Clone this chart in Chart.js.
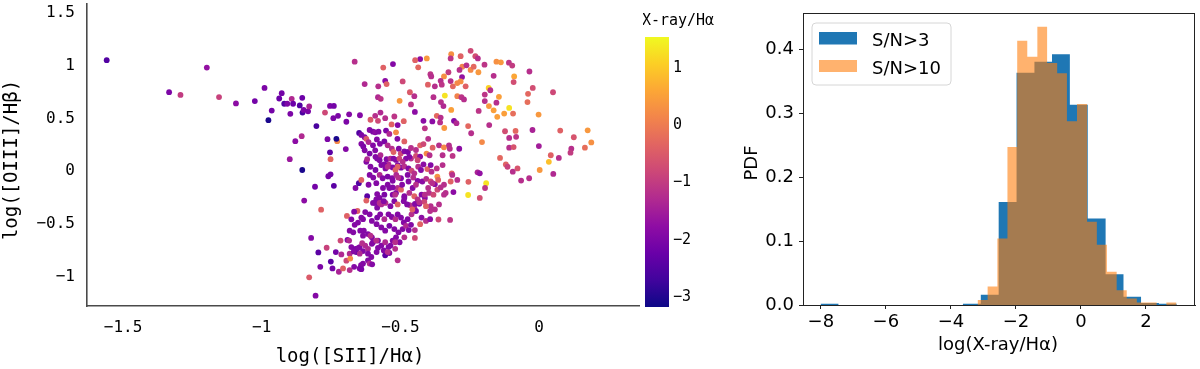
<!DOCTYPE html>
<html>
<head>
<meta charset="utf-8">
<script src="https://cdn.jsdelivr.net/npm/chart.js@4.4.0/dist/chart.umd.min.js"></script>
<style>
  html, body { margin: 0; padding: 0; background: #fff; }
  #wrap { position: relative; width: 1200px; height: 369px; overflow: hidden; background: #fff; }
  canvas { position: absolute; top: 0; }
</style>
</head>
<body>
<div id="wrap">
  <canvas id="bpt" width="643" height="369" style="left:0;width:643px;height:369px"></canvas>
  <canvas id="cbar" width="90" height="369" style="left:643px;width:90px;height:369px"></canvas>
  <canvas id="hist" width="500" height="369" style="left:700px;width:500px;height:369px"></canvas>
</div>
<script>
// ---- scatter: [log([SII]/Ha), log([OIII]/Hb), log(X-ray/Ha)] ----
const leftBranch = [
  [-1.559,1.054,-2.5],[-1.198,0.983,-1.7],[-1.334,0.750,-2.0],[-1.293,0.724,-1.0],[-1.154,0.703,-0.9],
  [-1.093,0.643,-1.8],[-1.025,0.665,-2.1],[-0.990,0.790,-2.0],[-0.976,0.484,-3.05],[-0.964,0.575,-2.1],
  [-0.937,0.690,-2.2],[-0.928,0.740,-2.1],[-0.919,0.640,-2.5],[-0.908,0.640,-2.0],[-0.892,0.687,-1.3],
  [-0.897,0.544,-2.0],[-0.887,0.640,-2.2],[-0.863,0.624,-2.5],[-0.854,0.696,-2.2],[-0.853,0.556,-2.6],
  [-0.849,0.581,-2.0],[-0.833,0.568,-2.0],[-0.829,0.615,-1.4],[-0.803,0.428,-2.6],[-0.856,0.332,-1.3],
  [-0.879,0.285,-1.8],[-0.899,0.114,-1.6],[-0.854,0.011,-3.05],[-0.808,-0.148,-2.1],[-0.847,-0.279,-1.8],
  [-0.786,-0.366,-0.4],[-0.822,-0.634,-1.9],[-0.796,-0.771,-2.4],[-0.789,-0.908,-2.0],[-0.829,-1.008,-0.5],
  [-0.806,-1.182,-1.9],[-0.772,0.556,-0.8],[-0.763,0.304,-2.0],[-0.754,0.179,-2.4],[-0.752,0.114,-0.3],
  [-0.728,0.285,0.2],[-0.731,0.307,-3.05],[-0.760,-0.048,-2.1],[-0.752,-0.030,-2.1],[-0.740,-0.139,-2.4],
  [-0.754,0.619,-2.0],[-0.740,0.619,-2.1],[-0.742,0.503,-2.0],[-0.725,0.525,-2.0],[-0.695,0.469,-2.0],
  [-0.697,0.210,-1.9],[-0.693,-0.425,-0.4],[-0.716,-0.659,-0.8],[-0.766,-0.727,-0.9],[-0.733,-0.768,-2.1],
  [-0.713,-0.790,-1.3],[-0.751,-0.858,-2.4],[-0.745,-0.923,-2.1],[-0.722,-0.955,-1.4],[-0.707,-0.923,-0.4],
  [-0.695,-0.850,-0.8]
];

const upperPlume = [
  [-0.247,1.142,-0.8],[-0.317,1.111,0.3],[-0.319,1.070,-1.1],[-0.283,1.092,-0.4],[-0.230,1.092,-0.7],
  [-0.221,1.070,-1.2],[-0.405,1.070,0.4],[-0.429,1.064,-1.8],[-0.447,1.054,-0.4],[-0.665,1.039,-1.2],
  [-0.527,1.017,-1.9],[-0.562,0.983,-0.4],[-0.436,0.986,-0.3],[-0.277,0.992,0.1],[-0.262,1.005,-1.2],
  [-0.247,0.961,0.2],[-0.236,0.992,-0.3],[-0.197,1.011,-1.1],[-0.154,1.039,0.3],[-0.138,1.033,0.4],
  [-0.109,1.030,-1.1],[-0.097,1.002,-1.0],[-0.035,0.946,-1.2],[-0.392,0.921,-1.1],[-0.389,0.899,-1.2],
  [-0.327,0.939,-1.0],[-0.343,0.899,0.3],[-0.287,0.961,-1.2],[-0.278,0.893,-1.7],[-0.219,0.939,0.4],
  [-0.164,0.905,-1.2],[-0.090,0.899,0.6],[-0.092,0.846,-0.7],[-0.629,0.827,-1.3],[-0.580,0.805,-1.2],
  [-0.555,0.858,-1.8],[-0.550,0.827,-0.4],[-0.492,0.852,-0.8],[-0.401,0.821,-0.4],[-0.376,0.805,-1.2],
  [-0.355,0.858,-1.2],[-0.351,0.821,-1.1],[-0.319,0.855,-1.2],[-0.311,0.805,-0.3],[-0.283,0.852,0.3],
  [-0.295,0.836,0.2],[-0.265,0.805,-0.4],[-0.182,0.790,1.1],[-0.176,0.768,-1.2],[-0.023,0.790,-0.7],
  [0.050,0.749,-0.8],[-0.340,0.718,1.3],[-0.466,0.749,-0.5],[-0.450,0.712,-1.2],[-0.503,0.668,0.4],
  [-0.581,0.702,-1.3],[-0.571,0.687,-1.1],[-0.381,0.702,-1.2],[-0.295,0.712,0.1],[-0.280,0.702,-1.1],
  [-0.271,0.681,-1.2],[-0.196,0.727,-1.1],[-0.196,0.665,-1.2],[-0.145,0.706,0.5],[-0.154,0.650,-1.2],
  [-0.040,0.734,-0.3],[-0.042,0.656,-0.2],
  [-0.462,0.634,-1.1],[-0.448,0.562,-1.8],[-0.354,0.656,-1.2],[-0.345,0.618,-1.3],[-0.181,0.618,0.4],
  [-0.108,0.600,1.3],[-0.164,0.578,0.5],[-0.151,0.516,0.5],[-0.126,0.547,0.5],[-0.094,0.547,-0.2],
  [-0.218,0.572,-1.1],[-0.002,0.537,0.4],[-0.317,0.581,0.5],[-0.369,0.525,-0.3],[-0.355,0.509,-1.2],
  [-0.572,0.556,-1.3],[-0.608,0.488,-0.5],[-0.180,0.438,-1.2],[-0.256,0.428,-0.3],[-0.357,0.463,-1.2],
  [-0.342,0.410,0.4],[-0.024,0.391,-1.4],[0.076,0.385,-0.4],[0.175,0.388,0.4],[-0.123,0.379,-0.7],
  [-0.085,0.382,-0.3],[-0.685,0.540,-1.9],[-0.646,0.531,-1.9],[-0.591,0.525,-1.2],[-0.555,0.503,-1.2],
  [-0.522,0.519,-1.1],[-0.532,0.444,-0.4],[-0.488,0.475,-0.4],[-0.510,0.438,-1.9],[-0.417,0.478,-1.8],
  [-0.412,0.407,-1.1],[-0.385,0.472,-1.8],[-0.307,0.478,-1.9],[-0.298,0.456,-1.3],[-0.245,0.360,-1.2]
];

const rightWing = [
  [0.125,0.322,-0.6],[0.188,0.273,0.3],[0.165,0.223,-0.2],[0.116,0.213,-1.2],[0.113,0.176,-1.0],
  [-0.001,0.238,-1.5],[0.042,0.151,-0.4],[0.071,0.126,-1.2],[0.035,0.089,0.9],[0.002,0.011,0.4],
  [0.051,-0.026,-1.3],[-0.036,-0.067,-1.2],[-0.065,-0.089,-1.2],[-0.078,0.026,-0.6],[-0.095,-0.005,-1.2],
  [-0.120,0.064,-0.4],[-0.114,0.042,-0.9],[-0.141,0.126,-0.3],[-0.108,0.223,-1.2],[-0.092,0.229,-0.6],
  [-0.108,0.316,-1.2],[-0.083,0.326,-1.1],[-0.206,0.276,0.2],[-0.222,-0.011,-1.4],[-0.214,-0.020,-1.7],
  [-0.255,-0.101,-0.4],[-0.191,-0.114,1.3],[-0.195,-0.160,-1.1],[-0.256,-0.226,1.3],[-0.214,-0.254,-0.7]
];

const mainCluster = [
  [-0.649,0.363,-2.5],[-0.641,0.344,-2.0],[-0.629,0.322,-1.9],[-0.611,0.391,-1.9],[-0.599,0.375,-2.0],
  [-0.591,0.369,-1.8],[-0.579,0.375,-1.9],[-0.552,0.385,-2.0],[-0.540,0.354,-1.3],[-0.516,0.369,0.2],
  [-0.511,0.307,-1.9],[-0.486,0.282,-0.4],[-0.581,0.478,-0.8],
  [-0.641,0.260,-1.9],[-0.634,0.235,-2.0],[-0.623,0.307,-0.5],[-0.615,0.276,-1.3],[-0.599,0.245,-1.9],
  [-0.585,0.301,-1.9],[-0.574,0.260,-1.9],[-0.558,0.282,-2.0],[-0.546,0.245,-1.3],[-0.531,0.213,-1.2],
  [-0.525,0.182,-0.4],[-0.506,0.213,-1.9],[-0.499,0.167,-0.8],[-0.486,0.188,-1.9],[-0.473,0.182,-2.0],
  [-0.462,0.220,-1.2],[-0.444,0.201,-1.2],[-0.429,0.245,-0.4],[-0.417,0.257,-0.8],[-0.400,0.307,-1.2],
  [-0.384,0.223,-0.4],[-0.361,0.245,-1.2],[-0.343,0.226,0.2],[-0.325,0.245,-1.2],[-0.629,0.198,-1.9],
  [-0.611,0.167,-2.0],[-0.591,0.198,-1.9],[-0.584,0.120,-1.9],[-0.572,0.151,-1.3],[-0.550,0.114,-1.9],
  [-0.536,0.120,-1.3],[-0.516,0.107,-1.9],[-0.504,0.120,-0.8],[-0.480,0.120,-1.9],[-0.462,0.120,-1.2],
  [-0.444,0.145,-0.7],[-0.429,0.139,-1.8],[-0.406,0.167,0.2],[-0.395,0.151,-1.2],[-0.348,0.151,-1.2],
  [-0.312,0.145,-1.1],[-0.288,0.213,-1.8],[-0.322,0.213,-1.2],
  [-0.623,0.089,-1.9],[-0.608,0.042,-1.9],[-0.590,0.011,-2.0],[-0.569,0.058,-1.9],[-0.554,0.026,-1.9],
  [-0.543,0.064,-1.3],[-0.528,0.036,-1.9],[-0.518,0.011,-0.4],[-0.510,0.058,-1.9],[-0.498,0.033,-2.0],
  [-0.486,0.045,-1.2],[-0.471,0.026,-1.9],[-0.460,0.005,-0.8],[-0.450,-0.020,-1.2],[-0.436,0.042,-1.2],
  [-0.417,0.064,-1.8],[-0.403,0.020,-0.4],[-0.388,-0.005,-1.2],[-0.369,0.026,-1.1],[-0.367,-0.051,0.3],
  [-0.348,0.058,-1.2],[-0.315,-0.020,-0.4],[-0.295,-0.083,-1.2],[-0.611,-0.036,-1.9],[-0.598,-0.061,-1.9],
  [-0.575,-0.036,-1.3],[-0.564,-0.067,-1.9],[-0.546,-0.051,-2.0],[-0.530,-0.067,-1.9],[-0.515,-0.036,-1.3],
  [-0.498,-0.067,-1.9],[-0.474,-0.036,-1.9],[-0.454,-0.061,-1.2],[-0.438,-0.092,-1.9],[-0.421,-0.098,-1.8],
  [-0.407,-0.073,-1.2],[-0.391,-0.098,-0.8],[-0.376,-0.123,-1.8],[-0.364,-0.083,-0.4],[-0.343,-0.129,-1.2],
  [-0.662,-0.160,-1.9],[-0.650,-0.114,-2.5],[-0.641,-0.083,-0.4],[-0.615,-0.129,-1.9],
  [-0.620,-0.238,-2.4],[-0.587,-0.269,-1.9],[-0.591,-0.301,-1.9],[-0.575,-0.254,-1.9],[-0.558,-0.223,-2.0],
  [-0.540,-0.160,-1.9],[-0.528,-0.223,-1.9],[-0.516,-0.207,-1.9],[-0.510,-0.160,-1.2],[-0.498,-0.176,-0.4],
  [-0.486,-0.238,-1.9],[-0.468,-0.207,-1.2],[-0.456,-0.160,-1.9],[-0.450,-0.238,-0.4],[-0.438,-0.269,-1.2],
  [-0.424,-0.223,-1.9],[-0.412,-0.254,-1.8],[-0.397,-0.207,-1.2],[-0.381,-0.223,-0.8],[-0.367,-0.176,-0.8],
  [-0.337,-0.207,-1.2],[-0.309,-0.198,-1.8],[-0.623,-0.279,-0.4],[-0.599,-0.301,-1.9],[-0.584,-0.347,-1.9],
  [-0.569,-0.316,-1.3],[-0.554,-0.301,-1.2],[-0.536,-0.332,-1.9],[-0.522,-0.285,-1.9],[-0.510,-0.316,-0.4],
  [-0.488,-0.285,-1.9],[-0.467,-0.322,-1.2],[-0.450,-0.347,-1.3],[-0.432,-0.310,-1.9],[-0.414,-0.291,-0.8],
  [-0.391,-0.332,-1.2],[-0.376,-0.363,-1.2],[-0.361,-0.316,-1.2],
  [-0.655,-0.378,-0.4],[-0.635,-0.456,-1.9],[-0.611,-0.410,-1.9],[-0.603,-0.472,-1.9],[-0.584,-0.441,-2.0],
  [-0.573,-0.410,-1.9],[-0.558,-0.456,-1.3],[-0.543,-0.410,-1.9],[-0.531,-0.435,-1.9],[-0.518,-0.456,-1.2],
  [-0.510,-0.410,-1.9],[-0.498,-0.441,-1.9],[-0.488,-0.487,-1.9],[-0.474,-0.456,-1.9],[-0.460,-0.410,-1.2],
  [-0.444,-0.378,-1.9],[-0.424,-0.441,-1.8],[-0.408,-0.472,-1.2],[-0.393,-0.456,-1.8],[-0.363,-0.459,-0.8],
  [-0.321,-0.463,-1.1],[-0.586,-0.503,-1.9],[-0.569,-0.534,-1.9],[-0.555,-0.565,-1.9],[-0.540,-0.519,-2.0],
  [-0.522,-0.550,-1.9],[-0.507,-0.581,-1.9],[-0.492,-0.550,-1.9],[-0.480,-0.519,-1.3],[-0.462,-0.509,-1.9],
  [-0.448,-0.559,-1.2],[-0.683,-0.565,-1.9],[-0.645,-0.565,-1.9],[-0.635,-0.612,-1.9],[-0.617,-0.597,-1.9],
  [-0.603,-0.628,-1.9],
  [-0.691,-0.653,-1.9],[-0.677,-0.721,-1.9],[-0.662,-0.737,-2.0],[-0.647,-0.721,-1.9],[-0.635,-0.759,-1.9],
  [-0.617,-0.737,-1.3],[-0.603,-0.690,-1.9],[-0.581,-0.659,-1.9],[-0.569,-0.706,-1.9],[-0.555,-0.675,-1.3],
  [-0.543,-0.721,-1.9],[-0.528,-0.659,-1.9],[-0.516,-0.628,-1.9],[-0.503,-0.675,-1.9],[-0.486,-0.628,-1.2],
  [-0.683,-0.783,-1.3],[-0.659,-0.768,-2.4],[-0.617,-0.846,-1.9],[-0.586,-0.768,-1.9],[-0.555,-0.799,-2.4],
  [-0.540,-0.777,-1.9],[-0.519,-0.737,-1.2],[-0.510,-0.846,-1.2],
  [-0.681,-0.830,0.2],[-0.667,-0.908,-1.9],[-0.635,-0.877,-1.9],[-0.611,-0.877,-1.3],[-0.605,-0.815,-1.9],
  [-0.683,-0.939,-1.2],[-0.647,-0.924,-1.9]
];

const clusterCore = [
  [-0.685,-0.659,-1.3],[-0.668,-0.762,-1.9],[-0.653,-0.730,-1.9],[-0.647,-0.783,-1.3],[-0.642,-0.893,-1.9],
  [-0.641,-0.930,-2.0],[-0.602,-0.884,-1.9],[-0.617,-0.783,-1.9],[-0.627,-0.706,-1.3],[-0.638,-0.684,-1.2],
  [-0.632,-0.565,-1.9],[-0.608,-0.612,-1.2],[-0.599,-0.675,-1.9],[-0.587,-0.659,-1.2],[-0.581,-0.728,-1.9],
  [-0.560,-0.752,-1.9],[-0.546,-0.768,-1.2],[-0.536,-0.706,-1.9],[-0.519,-0.675,-1.2],[-0.470,-0.559,-1.9],
  [-0.448,-0.634,-0.8],[-0.429,-0.503,-0.4],[-0.670,-0.581,-1.9],[-0.665,-0.509,-1.9],[-0.653,-0.488,-1.9],
  [-0.641,-0.441,-1.9],[-0.677,-0.457,-1.9],[-0.667,-0.385,-1.9],[-0.627,-0.388,-1.9],[-0.584,-0.217,-1.9],
  [-0.575,-0.301,-1.2],[-0.560,-0.285,-1.9],[-0.563,-0.160,-1.9],[-0.546,-0.129,-1.9],[-0.528,-0.154,-1.9],
  [-0.519,-0.223,-1.2],[-0.494,-0.129,-1.9],[-0.486,-0.254,-1.9],[-0.476,-0.316,-1.9],[-0.457,-0.363,-0.4],
  [-0.448,-0.310,-1.9],[-0.432,-0.294,-1.2],[-0.412,-0.223,-1.2],[-0.408,-0.332,-0.4],[-0.400,-0.160,-1.2],
  [-0.393,-0.379,-1.2],[-0.385,-0.114,-1.2],[-0.355,-0.154,-1.2],[-0.343,-0.223,-1.2],[-0.319,-0.098,-0.4],
  [-0.313,-0.036,-1.2],[-0.620,0.114,-1.3],[-0.590,0.136,-1.9],[-0.575,0.104,-1.9],[-0.558,0.064,-1.9],
  [-0.546,0.042,-1.2],[-0.525,0.120,-1.9],[-0.510,0.042,-0.4],[-0.492,0.089,-1.2],[-0.468,0.136,-1.9],
  [-0.438,0.104,-0.8],[-0.426,0.011,-1.9],[-0.391,0.058,-1.9],[-0.587,-0.114,-1.9],[-0.528,-0.092,-1.9],
  [-0.508,-0.061,-1.2],[-0.471,-0.098,-1.9],[-0.444,-0.129,-1.2]
];

const bptXTicks = [-1.5, -1, -0.5, 0];
const bptYTicks = [-1, -0.5, 0, 0.5, 1, 1.5];
const cbarTicks = [-3, -2, -1, 0, 1];

// ---- histogram (PDF) ----
const legendLabels = ['S/N>3', 'S/N>10'];
const sn3Edges = [-8.01,-7.46,-6.91,-6.37,-5.82,-5.27,-4.72,-4.17,-3.63,-3.08,-2.53,-1.98,-1.43,-0.89,-0.34,0.21,0.76,1.31,1.85,2.40,2.95];
const sn3Pdf = [0.002,0,0,0,0,0,0,0,0.002,0.016,0.161,0.363,0.380,0.392,0.313,0.135,0.048,0.013,0.003,0.002];
const sn10Edges = [-3.18,-2.87,-2.57,-2.26,-1.96,-1.65,-1.34,-1.04,-0.73,-0.43,-0.12,0.19,0.49,0.80,1.10,1.41,1.72,2.02,2.33,2.63,2.94];
const sn10Pdf = [0.008,0.029,0.104,0.247,0.413,0.388,0.435,0.378,0.362,0.287,0.314,0.130,0.094,0.052,0.023,0.010,0.004,0.004,0,0.004];
const histXTicks = [-8, -6, -4, -2, 0, 2];
const histYTicks = [0, 0.1, 0.2, 0.3, 0.4];

// colour scale
const cMin = -3.17, cMax = 1.54;
const plasmaStops = ['#0d0887','#41049d','#6a00a8','#8f0da4','#b12a90','#cc4778',
                     '#e16462','#f2844b','#fca636','#fcce25','#f0f921'];

function hexRgb(h) {
  return [parseInt(h.slice(1, 3), 16), parseInt(h.slice(3, 5), 16), parseInt(h.slice(5, 7), 16)];
}
function plasma(v) {
  let t = Math.min(1, Math.max(0, (v - cMin) / (cMax - cMin))) * (plasmaStops.length - 1);
  const i = Math.min(Math.floor(t), plasmaStops.length - 2);
  const f = t - i;
  const a = hexRgb(plasmaStops[i]), b = hexRgb(plasmaStops[i + 1]);
  const c = a.map((x, k) => Math.round(x + (b[k] - x) * f));
  return 'rgb(' + c.join(',') + ')';
}
const minus = v => String(v).replace('-', '\u2212');

function fixAxis(size) {
  return function (scale) {
    if (scale.isHorizontal()) scale.height = size; else scale.width = size;
    scale.paddingLeft = scale.paddingRight = scale.paddingTop = scale.paddingBottom = 0;
  };
}
function setTicks(list) {
  return function (scale) { scale.ticks = list.map(v => ({ value: v })); };
}
function textPlugin(items) {
  return {
    id: 'textItems',
    afterDraw(chart) {
      const ctx = chart.ctx;
      items.forEach(t => {
        ctx.save();
        ctx.font = t.font;
        ctx.fillStyle = '#000';
        ctx.textAlign = 'center';
        ctx.textBaseline = 'middle';
        ctx.translate(t.x, t.y);
        if (t.rot) ctx.rotate(t.rot);
        ctx.fillText(t.text, 0, 0);
        ctx.restore();
      });
    }
  };
}

const MONO = '"DejaVu Sans Mono", monospace';
const SANS = '"DejaVu Sans", sans-serif';

// ---- BPT scatter ----
const bptPoints = leftBranch.concat(upperPlume, rightWing, mainCluster, clusterCore);

new Chart(document.getElementById('bpt'), {
  type: 'scatter',
  data: {
    datasets: [{
      data: bptPoints.map(p => ({ x: p[0], y: p[1] })),
      backgroundColor: bptPoints.map(p => plasma(p[2])),
      pointRadius: 2.9,
      borderWidth: 0
    }]
  },
  options: {
    responsive: false,
    animation: false,
    events: [],
    layout: { padding: 0 },
    plugins: { legend: { display: false }, tooltip: { enabled: false } },
    scales: {
      x: {
        type: 'linear', min: -1.63, max: 0.36,
        afterFit: fixAxis(63), afterBuildTicks: setTicks(bptXTicks),
        grid: { drawOnChartArea: false, drawTicks: false },
        border: { display: true, color: '#4a4a4a', width: 1.6 },
        ticks: { padding: 12, color: '#000', autoSkip: false, maxRotation: 0,
                 font: { family: MONO, size: 16 }, callback: v => minus(v) }
      },
      y: {
        type: 'linear', min: -1.28, max: 1.587,
        afterFit: fixAxis(87), afterBuildTicks: setTicks(bptYTicks),
        grid: { drawOnChartArea: false, drawTicks: false },
        border: { display: true, color: '#4a4a4a', width: 1.6 },
        ticks: { padding: 12, color: '#000', autoSkip: false,
                 font: { family: MONO, size: 16 }, callback: v => minus(v) }
      }
    }
  },
  plugins: [textPlugin([
    { text: 'log([SII]/H\u03b1)', x: 350, y: 357, font: '19px ' + MONO },
    { text: 'log([OIII]/H\u03b2)', x: 12, y: 160, rot: -Math.PI / 2, font: '19px ' + MONO }
  ])]
});

// ---- colour bar ----
const colorbarFill = {
  id: 'colorbarFill',
  beforeDatasetsDraw(chart) {
    const { ctx, chartArea: a, scales: { y } } = chart;
    const g = ctx.createLinearGradient(0, y.getPixelForValue(cMin), 0, y.getPixelForValue(cMax));
    plasmaStops.forEach((c, i) => g.addColorStop(i / (plasmaStops.length - 1), c));
    ctx.fillStyle = g;
    ctx.fillRect(a.left, a.top, a.width, a.height);
  }
};

new Chart(document.getElementById('cbar'), {
  type: 'scatter',
  data: { datasets: [{ data: [] }] },
  options: {
    responsive: false,
    animation: false,
    events: [],
    layout: { padding: { left: 2, top: 37, bottom: 62, right: 33 } },
    plugins: { legend: { display: false }, tooltip: { enabled: false } },
    scales: {
      x: { display: false, min: 0, max: 1 },
      y: {
        position: 'right', min: cMin, max: cMax,
        afterFit: fixAxis(31), afterBuildTicks: setTicks(cbarTicks),
        grid: { drawOnChartArea: false, drawTicks: false },
        border: { display: false },
        ticks: { padding: 4, color: '#000', autoSkip: false,
                 font: { family: MONO, size: 15 }, callback: v => minus(v) }
      }
    }
  },
  plugins: [colorbarFill, textPlugin([
    { text: 'X-ray/H\u03b1', x: 35, y: 21, font: '15px ' + MONO }
  ])]
});

// ---- histogram ----
function stepPoints(edges, vals) {
  const pts = vals.map((v, i) => ({ x: edges[i], y: v }));
  pts.push({ x: edges[edges.length - 1], y: 0 });
  return pts;
}
const blue = '#1f77b4';
const orange = 'rgba(255,127,14,0.6)';

const frameAndLegend = {
  id: 'frameAndLegend',
  afterDraw(chart) {
    const { ctx, chartArea: a } = chart;
    ctx.save();
    ctx.strokeStyle = '#222';
    ctx.lineWidth = 1;
    ctx.strokeRect(a.left + 0.5, a.top + 0.5, a.width - 1, a.height);
    // legend box
    const bx = 112, by = 23, bw = 139, bh = 62, r = 4;
    ctx.beginPath();
    ctx.moveTo(bx + r, by);
    ctx.arcTo(bx + bw, by, bx + bw, by + bh, r);
    ctx.arcTo(bx + bw, by + bh, bx, by + bh, r);
    ctx.arcTo(bx, by + bh, bx, by, r);
    ctx.arcTo(bx, by, bx + bw, by, r);
    ctx.closePath();
    ctx.fillStyle = 'rgba(255,255,255,0.8)';
    ctx.fill();
    ctx.strokeStyle = '#d6d6d6';
    ctx.stroke();
    const colors = [blue, orange];
    const rows = [{ top: 32, h: 12.5, base: 45.5 }, { top: 60, h: 12, base: 74 }];
    ctx.font = '18px ' + SANS;
    ctx.textAlign = 'left';
    ctx.textBaseline = 'alphabetic';
    legendLabels.forEach((lab, i) => {
      ctx.fillStyle = colors[i];
      ctx.fillRect(119, rows[i].top, 38, rows[i].h);
      ctx.fillStyle = '#000';
      ctx.fillText(lab, 172, rows[i].base);
    });
    ctx.restore();
  }
};

new Chart(document.getElementById('hist'), {
  type: 'line',
  data: {
    datasets: [
      { label: legendLabels[1], data: stepPoints(sn10Edges, sn10Pdf), stepped: 'before',
        fill: 'origin', backgroundColor: orange, borderColor: 'transparent', borderWidth: 0, pointRadius: 0 },
      { label: legendLabels[0], data: stepPoints(sn3Edges, sn3Pdf), stepped: 'before',
        fill: 'origin', backgroundColor: blue, borderColor: 'transparent', borderWidth: 0, pointRadius: 0 }
    ]
  },
  options: {
    responsive: false,
    animation: false,
    events: [],
    layout: { padding: { top: 13, right: 5 } },
    plugins: { legend: { display: false }, tooltip: { enabled: false } },
    scales: {
      x: {
        type: 'linear', min: -8.55, max: 3.51,
        afterFit: fixAxis(64), afterBuildTicks: setTicks(histXTicks),
        grid: { drawOnChartArea: false, drawTicks: true, tickLength: 4, color: '#222' },
        border: { display: true, color: '#222', width: 1 },
        ticks: { padding: 3, color: '#000', autoSkip: false, maxRotation: 0,
                 font: { family: SANS, size: 18 }, callback: v => minus(v) }
      },
      y: {
        type: 'linear', min: 0, max: 0.4563,
        afterFit: fixAxis(103), afterBuildTicks: setTicks(histYTicks),
        grid: { drawOnChartArea: false, drawTicks: true, tickLength: 4, color: '#222' },
        border: { display: true, color: '#222', width: 1 },
        ticks: { padding: 5, color: '#000', autoSkip: false,
                 font: { family: SANS, size: 18 }, callback: v => v.toFixed(1) }
      }
    }
  },
  plugins: [frameAndLegend, textPlugin([
    { text: 'log(X-ray/H\u03b1)', x: 298, y: 345, font: '18px ' + SANS },
    { text: 'PDF', x: 52, y: 163, rot: -Math.PI / 2, font: '18px ' + SANS }
  ])]
});
</script>
</body>
</html>
